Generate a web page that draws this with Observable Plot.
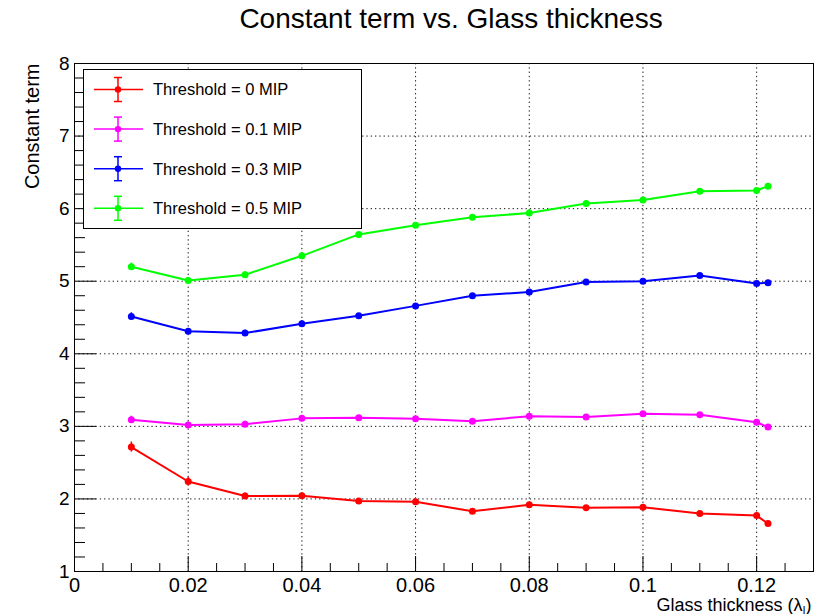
<!DOCTYPE html>
<html>
<head>
<meta charset="utf-8">
<script src="https://cdn.jsdelivr.net/npm/d3@7"></script>
<script src="https://cdn.jsdelivr.net/npm/@observablehq/plot@0.6"></script>
<style>
  body { margin: 0; background: #fff; }
  #wrap { position: relative; width: 815px; height: 614px; font-family: 'Liberation Sans', Arial, Helvetica, sans-serif; }
  #legend { position: absolute; left: 83px; top: 69px; }
</style>
</head>
<body>
<div id="wrap"></div>
<script>
// ---- data ----
const xs = [0.01, 0.02, 0.03, 0.04, 0.05, 0.06, 0.07, 0.08, 0.09, 0.10, 0.11, 0.12, 0.122];
const thr0  = [2.715, 2.24, 2.04, 2.045, 1.97, 1.96, 1.83, 1.92, 1.88, 1.885, 1.80, 1.77, 1.66];
const thr01 = [3.09, 3.02, 3.03, 3.11, 3.12, 3.105, 3.07, 3.14, 3.13, 3.175, 3.16, 3.055, 2.99];
const thr03 = [4.515, 4.31, 4.285, 4.415, 4.525, 4.66, 4.80, 4.85, 4.99, 5.00, 5.08, 4.97, 4.98];
const thr05 = [5.20, 5.01, 5.09, 5.35, 5.645, 5.77, 5.88, 5.94, 6.07, 6.12, 6.24, 6.25, 6.31];
const err0  = [0.07, 0.06, 0.04, 0.04, 0.03, 0.03, 0.03, 0.03, 0.03, 0.03, 0.03, 0.03, 0.03];
const err01 = [0.05, 0.04, 0.04, 0.03, 0.03, 0.03, 0.03, 0.03, 0.03, 0.03, 0.03, 0.03, 0.03];
const err03 = [0.05, 0.04, 0.04, 0.04, 0.03, 0.03, 0.03, 0.03, 0.03, 0.03, 0.03, 0.03, 0.03];
const err05 = [0.05, 0.04, 0.04, 0.04, 0.03, 0.03, 0.03, 0.03, 0.03, 0.03, 0.03, 0.03, 0.03];
const seriesLabels = ["Threshold = 0 MIP", "Threshold = 0.1 MIP", "Threshold = 0.3 MIP", "Threshold = 0.5 MIP"];
const seriesColors = ["#ff0000", "#ff00ff", "#0000ff", "#00ff00"];
const seriesValues = [thr0, thr01, thr03, thr05];
const seriesErrors = [err0, err01, err03, err05];
const xMajor = [0, 0.02, 0.04, 0.06, 0.08, 0.1, 0.12];
const yMajor = [1, 2, 3, 4, 5, 6, 7, 8];
const xGrid = [0.02, 0.04, 0.06, 0.08, 0.1, 0.12];
const yGrid = [2, 3, 4, 5, 6, 7];
const xMinor = d3.range(1, 27).map(i => +(i * 0.005).toFixed(3)).filter(v => !xMajor.some(m => Math.abs(m - v) < 1e-9));
const yMinor = d3.range(1, 36).map(i => +(1 + i * 0.2).toFixed(2)).filter(v => !yMajor.some(m => Math.abs(m - v) < 1e-9));
const title = "Constant term vs. Glass thickness";
const yTitle = "Constant term";
const xTitle = "Glass thickness (λ";

// ---- layout ----
const W = 815, H = 614;
const mL = 74, mR = 2, mT = 63, mB = 43;
const fW = W - mL - mR, fH = H - mT - mB;

const marks = [];
marks.push(Plot.gridX(xGrid, {stroke: "#111", strokeOpacity: 1, strokeDasharray: "1.3,3"}));
marks.push(Plot.gridY(yGrid, {stroke: "#111", strokeOpacity: 1, strokeDasharray: "1.3,3"}));
marks.push(Plot.tickX(xMajor, {x: d => d, insetTop: fH - 15, stroke: "#000"}));
marks.push(Plot.tickX(xMinor, {x: d => d, insetTop: fH - 8, stroke: "#000"}));
marks.push(Plot.tickY(yMajor, {y: d => d, insetRight: fW - 22, stroke: "#000"}));
marks.push(Plot.tickY(yMinor, {y: d => d, insetRight: fW - 11, stroke: "#000"}));
marks.push(Plot.frame({stroke: "#000", strokeWidth: 1}));
marks.push(Plot.axisX({ticks: xMajor, tickSize: 0, tickPadding: 6, fontSize: 20, tickFormat: d => String(d), label: null}));
marks.push(Plot.axisY({ticks: yMajor, tickSize: 0, tickPadding: 5, fontSize: 19, tickFormat: d => String(d), label: null}));

seriesValues.forEach((vals, s) => {
  const data = xs.map((x, i) => ({x, y: vals[i], e: seriesErrors[s][i]}));
  const c = seriesColors[s];
  marks.push(Plot.ruleX(data, {x: "x", y1: d => d.y - d.e, y2: d => d.y + d.e, stroke: c, strokeWidth: 1.5}));
  marks.push(Plot.line(data, {x: "x", y: "y", stroke: c, strokeWidth: 2}));
  marks.push(Plot.dot(data, {x: "x", y: "y", r: 3.5, fill: c, stroke: "none"}));
});

marks.push(Plot.text([title], {frameAnchor: "top", dx: 7, dy: -36, lineAnchor: "bottom", fontSize: 28, fill: "#000"}));
marks.push(Plot.text([yTitle], {frameAnchor: "top-left", rotate: -90, textAnchor: "end", lineAnchor: "bottom", dx: -36, dy: 0, fontSize: 20, fill: "#000"}));
marks.push(Plot.text([xTitle], {frameAnchor: "bottom-right", textAnchor: "end", lineAnchor: "bottom", dx: -2, dy: 39, fontSize: 18, fill: "#000"}));

const chart = Plot.plot({
  width: W, height: H,
  marginLeft: mL, marginRight: mR, marginTop: mT, marginBottom: mB,
  x: {domain: [0, 0.13]},
  y: {domain: [1, 8]},
  style: {fontFamily: "'Liberation Sans', Arial, Helvetica, sans-serif", background: "#fff", color: "#000", overflow: "visible"},
  marks
});
document.getElementById("wrap").appendChild(chart);

// subscript for x title
d3.select(chart).selectAll("text").filter(function() { return this.textContent === xTitle; }).each(function() {
  const t = d3.select(this);
  t.append("tspan").attr("font-size", 11).attr("dy", 3).text("I");
  t.append("tspan").attr("dy", -3).text(")");
});

// legend box
const lg = d3.select("#wrap").append("svg").attr("id", "legend")
  .attr("width", 279).attr("height", 160)
  .style("font-family", "'Liberation Sans', Arial, Helvetica, sans-serif");
lg.append("rect").attr("x", 0.5).attr("y", 0.5).attr("width", 278).attr("height", 159)
  .attr("fill", "#fff").attr("stroke", "#000");
seriesLabels.forEach((lab, i) => {
  const cy = 20.5 + i * 39.6;
  const c = seriesColors[i];
  const g = lg.append("g");
  g.append("line").attr("x1", 11).attr("x2", 60).attr("y1", cy).attr("y2", cy).attr("stroke", c).attr("stroke-width", 1.5);
  g.append("line").attr("x1", 35).attr("x2", 35).attr("y1", cy - 12).attr("y2", cy + 12).attr("stroke", c).attr("stroke-width", 1.5);
  g.append("line").attr("x1", 31).attr("x2", 39).attr("y1", cy - 12).attr("y2", cy - 12).attr("stroke", c).attr("stroke-width", 1.5);
  g.append("line").attr("x1", 31).attr("x2", 39).attr("y1", cy + 12).attr("y2", cy + 12).attr("stroke", c).attr("stroke-width", 1.5);
  g.append("circle").attr("cx", 35).attr("cy", cy).attr("r", 3.2).attr("fill", c);
  g.append("text").attr("x", 70).attr("y", cy).attr("dy", "0.36em").attr("font-size", 16.5).attr("fill", "#000").text(lab);
});
</script>
</body>
</html>
